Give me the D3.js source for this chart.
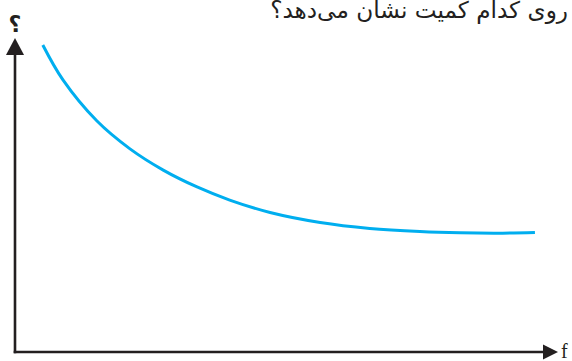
<!DOCTYPE html>
<html><head><meta charset="utf-8">
<script src="https://cdn.jsdelivr.net/npm/d3@7"></script>
<style>html,body{margin:0;padding:0;background:#fff;overflow:hidden}</style>
</head><body>
<svg id="c" width="572" height="361"></svg>
<script>
// data (domain units)
const fValues = [0.51,0.88,1.50,2.11,2.72,3.34,3.94,4.68,5.60,6.51,7.43,8.17,8.95,9.54];
const qValues = [9.84,8.72,7.41,6.51,5.83,5.29,4.87,4.47,4.15,3.96,3.86,3.82,3.81,3.83];
const titleText = "روی کدام کمیت نشان می‌دهد؟";
const yLabel = "؟";
const xLabel = "f";

const svg = d3.select("#c");
const x = d3.scaleLinear().domain([0,10]).range([15,560]);
const y = d3.scaleLinear().domain([0,10]).range([352,40]);

// axes
svg.append("line").attr("x1",x(0)).attr("x2",x(0)).attr("y1",y(0)+1.3).attr("y2",y(10)+14)
  .attr("stroke","#231f20").attr("stroke-width",2.6);
svg.append("line").attr("x1",x(0)-1.3).attr("x2",546).attr("y1",y(0)).attr("y2",y(0))
  .attr("stroke","#231f20").attr("stroke-width",2.6);
// arrowheads
const ax = x(0), ay = 38;
svg.append("path").attr("d",`M${ax},${ay} L${ax+9},${ay+17} L${ax-9},${ay+17} Z`).attr("fill","#231f20");
const bx = 558, by = y(0);
svg.append("path").attr("d",`M${bx},${by} L${bx-15},${by-7.5} L${bx-15},${by+7.5} Z`).attr("fill","#231f20");

// curve
const pts = fValues.map((v,i)=>[x(v), y(qValues[i])]);
svg.append("path").attr("d", d3.line().curve(d3.curveCatmullRom.alpha(0.5))(pts))
  .attr("fill","none").attr("stroke","#00aeef").attr("stroke-width",3);

// labels
svg.append("text").attr("x",x(0)).attr("y",32).attr("text-anchor","middle")
  .attr("font-family","DejaVu Sans").attr("font-size",22).attr("font-weight","bold")
  .attr("fill","#231f20").text(yLabel);
svg.append("text").attr("x",561).attr("y",358).attr("font-family","Liberation Serif")
  .attr("font-size",20).attr("fill","#231f20").text(xLabel);
const t = svg.append("text").attr("x",568).attr("y",18).attr("text-anchor","end")
  .attr("font-family","DejaVu Sans").attr("font-size",20).attr("fill","#231f20").text(titleText);
const w = t.node().getComputedTextLength();
t.attr("font-size", 20*298/w);
</script>
</body></html>
